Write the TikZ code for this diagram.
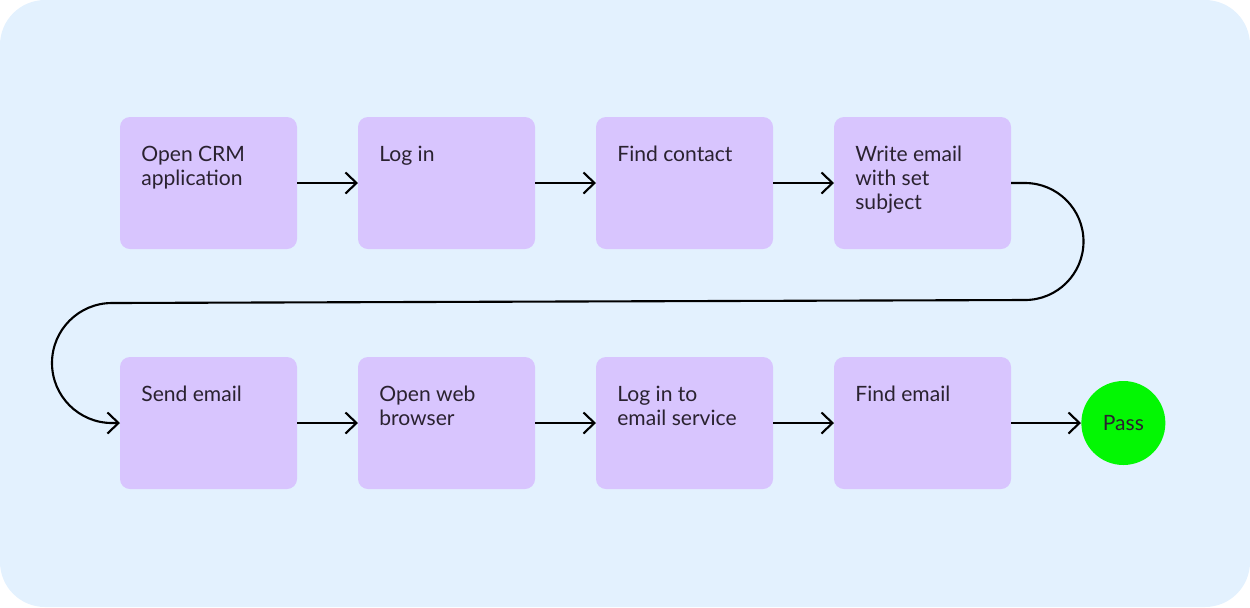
\documentclass[tikz,border=0pt]{standalone}
\usepackage{fontspec}
\setmainfont{Lato}
\usetikzlibrary{positioning, arrows.meta, calc}
\definecolor{bgblue}{HTML}{E3F1FE}
\definecolor{lilac}{HTML}{D8C5FE}
\definecolor{passgreen}{HTML}{03F703}
\definecolor{ink}{HTML}{2A2230}

\begin{document}
\begin{tikzpicture}[
    box/.style={fill=lilac, rounded corners=0.2cm, minimum width=3.54cm, minimum height=2.64cm, inner sep=0pt, outer sep=0pt},
    txt/.style={anchor=north west, inner sep=0pt, align=left, text=ink, font=\fontsize{12}{13.6}\selectfont, xshift=0.42cm, yshift=-0.58cm},
    flow/.style={line width=1.2pt, -{Straight Barb[length=2.2mm, width=4.2mm]}}
]
    \fill[bgblue, rounded corners=0.9cm] (0,0) rectangle (25,-12.14);
    \node[box, anchor=north west] (crm) at (2.4,-2.34) {};
    \node[box, right=1.22cm of crm] (login) {};
    \node[box, right=1.22cm of login] (contact) {};
    \node[box, right=1.22cm of contact] (write) {};
    \node[box, below=2.16cm of crm] (send) {};
    \node[box, right=1.22cm of send] (browser) {};
    \node[box, right=1.22cm of browser] (service) {};
    \node[box, right=1.22cm of service] (find) {};
    \node[circle, fill=passgreen, minimum size=1.68cm, inner sep=0pt, text=ink, font=\fontsize{12}{13.6}\selectfont, right=1.4cm of find] (pass) {Pass};
    \foreach \n/\t in {crm/{Open CRM\\application}, login/{Log in}, contact/{Find contact}, write/{Write email\\with set\\subject}, send/{Send email}, browser/{Open web\\browser}, service/{Log in to\\email service}, find/{Find email}}
        \node[txt] (\n-text) at (\n.north west) {\t};
    \draw[flow] (crm) -- (login);
    \draw[flow] (login) -- (contact);
    \draw[flow] (contact) -- (write);
    \draw[flow] (send) -- (browser);
    \draw[flow] (browser) -- (service);
    \draw[flow] (service) -- (find);
    \draw[flow] (find) -- (pass);
    \coordinate (bend) at ($(send.west)+(-0.16,2.4)$);
    \draw[flow] (write.east) -- ++(0.28,0) arc[start angle=90, end angle=-90, radius=1.17] -- (bend) arc[start angle=90, end angle=270, radius=1.2] -- (send.west);
\end{tikzpicture}
\end{document}
